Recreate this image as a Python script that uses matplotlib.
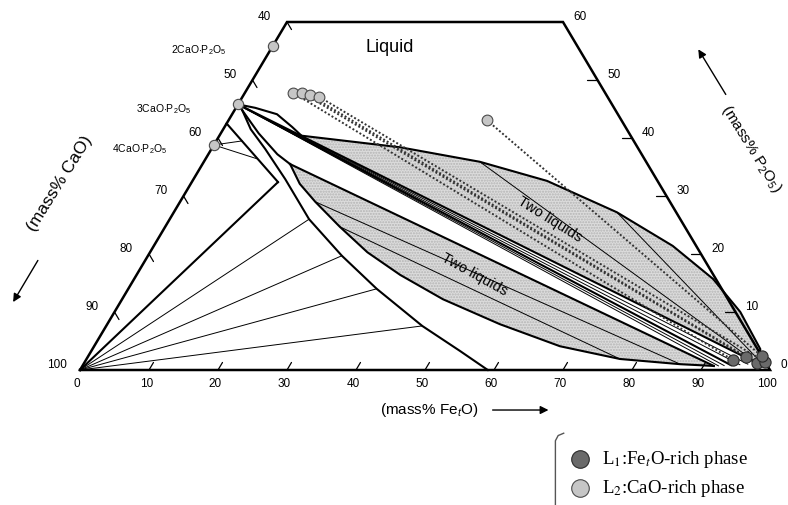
import matplotlib
matplotlib.use("Agg")
import matplotlib.pyplot as plt
import numpy as np
from matplotlib.patches import Polygon

plt.rcParams['font.family'] = ['Liberation Sans', 'DejaVu Sans']
plt.rcParams['mathtext.fontset'] = 'custom'
plt.rcParams['mathtext.rm'] = 'Liberation Sans'
plt.rcParams['mathtext.it'] = 'Liberation Sans:italic'

# all compositions given as (mass% FetO, mass% P2O5); CaO is the balance

# calcium phosphates on the CaO-P2O5 side
compound_names = ['2CaO$\\cdot$P$_2$O$_5$', '3CaO$\\cdot$P$_2$O$_5$', '4CaO$\\cdot$P$_2$O$_5$']
compound_p2o5 = [55.9, 45.8, 38.8]

# measured liquid pairs
l2_feo = [7.0, 8.3, 9.6, 11.1, 37.4]
l2_p2o5 = [47.8, 47.8, 47.4, 47.1, 43.1]
l1_feo = [93.8, 95.4, 97.5, 98.6, 97.6]
l1_p2o5 = [1.7, 2.2, 1.2, 1.4, 2.4]

# upper two-liquid lens
up_feo = [11.9, 27.2, 40.0, 51.4, 64.2, 75.2, 83.9, 90.7, 96.8, 97.5]
up_p2o5 = [40.4, 38.4, 35.9, 32.6, 27.2, 21.4, 15.7, 10.0, 3.6, 1.2]
# boundary from 3CaO.P2O5 to the lens tip
arc_feo = [0.0, 2.8, 6.5, 9.8, 11.9]
arc_p2o5 = [45.8, 45.2, 44.1, 41.9, 40.4]
up_tie_start = [(40.0, 35.9), (64.2, 27.2)]
up_tie_end = [(97.5, 1.2), (97.8, 1.5)]

# lower two-liquid lens
low_top_feo = [12.7, 91.5]
low_top_p2o5 = [35.5, 0.7]
low_bot_feo = [12.7, 15.8, 19.6, 25.3, 31.5, 38.2, 46.5, 56.9, 67.5, 77.3, 86.5, 91.5]
low_bot_p2o5 = [35.5, 32.1, 29.0, 24.7, 20.3, 16.4, 12.2, 7.9, 4.1, 1.9, 1.0, 0.7]
low_tie_start = [(19.6, 29.0), (25.3, 24.7)]
low_tie_end = [(86.5, 1.0), (77.3, 1.9)]
c3p_to_tip_feo = [0.0, 5.5, 10.0, 12.7]
c3p_to_tip_p2o5 = [45.8, 40.8, 37.2, 35.5]

# tie lines from 3CaO.P2O5 to the FetO-rich liquid
c3p_thin_end = [(96.3, 1.0), (95.2, 0.9), (93.0, 0.75), (92.2, 0.7)]
c3p_thick_end = [(97.5, 1.2), (94.0, 0.8)]

# liquidus of the solid solution and CaO fan
c1_feo = [0.5, 4.0, 7.8, 13.3, 20.2, 28.1, 36.0, 45.8, 53.4, 59.1]
c1_p2o5 = [45.5, 41.5, 38.1, 32.9, 26.0, 19.7, 14.0, 7.6, 3.3, 0.0]
d_feo = [0.0, 12.5]
d_p2o5 = [42.5, 32.4]
fan_thick_end = (12.5, 32.4)
fan_thin_end = [(20.2, 26.0), (28.1, 19.7), (36.0, 14.0), (45.8, 7.6)]
c4p_tie_end = [(3.75, 39.5), (7.5, 36.4)]

frame_feo = [0, 0, 40, 100, 0]
frame_p2o5 = [0, 60, 60, 0, 0]


def tern(feo, p2o5):
    feo = np.asarray(feo, float)
    p2o5 = np.asarray(p2o5, float)
    return feo + p2o5 / 2.0, p2o5


def seg(ax, a, b, lw, **kw):
    x, y = tern([a[0], b[0]], [a[1], b[1]])
    ax.plot(x, y, color='black', lw=lw, solid_capstyle='round', **kw)


fig = plt.figure(figsize=(7.88, 5.06), dpi=100)
ax = fig.add_axes([0, 0, 1, 1])
ax.set_xlim(-11.594, 102.61)
ax.set_ylim(-23.276, 63.966)
ax.axis('off')

THICK = 1.5
THIN = 0.7
shade = dict(facecolor='#dcdcdc', edgecolor='#b4b4b4', hatch='......', lw=0)

# upper lens
ux, uy = tern(up_feo, up_p2o5)
ax.add_patch(Polygon(np.column_stack([ux, uy]), closed=True, **shade))
ax.plot(ux, uy, color='black', lw=THICK)
for a, b in zip(up_tie_start, up_tie_end):
    seg(ax, a, b, THIN)

# lower lens
bx, by = tern(low_bot_feo, low_bot_p2o5)
tx, ty = tern(low_top_feo, low_top_p2o5)
ax.add_patch(Polygon(np.column_stack([np.r_[bx, tx[::-1]], np.r_[by, ty[::-1]]]), closed=True, **shade))
ax.plot(bx, by, color='black', lw=THICK)
ax.plot(tx, ty, color='black', lw=THICK)
for a, b in zip(low_tie_start, low_tie_end):
    seg(ax, a, b, THIN)
ax.plot(*tern(c3p_to_tip_feo, c3p_to_tip_p2o5), color='black', lw=THICK)

# 3CaO.P2O5 tie lines
c3p = (0.0, compound_p2o5[1])
ax.plot(*tern(arc_feo, arc_p2o5), color='black', lw=THICK)
for e in c3p_thin_end:
    seg(ax, c3p, e, THIN)
for e in c3p_thick_end:
    seg(ax, c3p, e, THICK)

# CaO side
ax.plot(*tern(c1_feo, c1_p2o5), color='black', lw=THICK)
ax.plot(*tern(d_feo, d_p2o5), color='black', lw=THICK)
seg(ax, (0, 0), fan_thick_end, THICK)
for e in fan_thin_end:
    seg(ax, (0, 0), e, THIN)
for e in c4p_tie_end:
    seg(ax, (0, compound_p2o5[2]), e, THIN)

# frame
ax.plot(*tern(frame_feo, frame_p2o5), color='black', lw=1.8, solid_joinstyle='miter')

# ticks
for v in range(10, 100, 10):
    seg(ax, (v, 0), (v, 1.3), 0.9)
for c in range(40, 100, 10):
    seg(ax, (0, 100 - c), (1.3, 100 - c - 1.3), 0.9)
for p in range(10, 60, 10):
    seg(ax, (100 - p, p), (100 - p - 1.5, p), 0.9)

# tick labels
for v in range(0, 101, 10):
    x, y = tern(v, 0)
    ax.text(x - 0.4, y - 2.2, str(v), ha='center', va='center', fontsize=8.5)
for c in range(40, 101, 10):
    x, y = tern(0, 100 - c)
    ax.text(x - 3.3, y + 1.0, str(c), ha='center', va='center', fontsize=8.5)
for p in range(0, 61, 10):
    x, y = tern(100 - p, p)
    dx = 2.0 if p == 0 else 2.4
    ax.text(x + dx, y + 1.0, str(p), ha='center', va='center', fontsize=8.5)

# dotted tie lines between the two liquids
for i in range(len(l1_feo)):
    x, y = tern([l2_feo[i], l1_feo[i]], [l2_p2o5[i], l1_p2o5[i]])
    ax.plot(x, y, color='#333333', lw=1.4, ls=(0, (1, 1.1)))

# compounds
cx, cy = tern(np.zeros(3), compound_p2o5)
ax.scatter(cx, cy, s=55, c='#c6c6c6', edgecolors='#4a4a4a', linewidths=0.8, zorder=5)
for name, x, y in zip(compound_names, cx, cy):
    ax.text(x - 10.8, y - 0.6, name, ha='center', va='center', fontsize=7.5)

ax.scatter(*tern(l2_feo, l2_p2o5), s=60, c='#c6c6c6', edgecolors='#4a4a4a', linewidths=0.8, zorder=5)
ax.scatter(*tern(l1_feo, l1_p2o5), s=65, c='#6a6a6a', edgecolors='#2a2a2a', linewidths=0.8, zorder=5)

# region labels
ax.text(44.9, 55.7, 'Liquid', ha='center', va='center', fontsize=13)
ax.text(68.1, 26.2, 'Two liquids', ha='center', va='center', fontsize=10.5, rotation=-32)
ax.text(57.2, 16.6, 'Two liquids', ha='center', va='center', fontsize=10.5, rotation=-29)

# axis titles
ax.text(50.6, -6.8, '(mass% Fe$_{\\it t}$O)', ha='center', va='center', fontsize=11)
ax.annotate('', xy=(68.3, -6.9), xytext=(59.4, -6.9),
            arrowprops=dict(arrowstyle='-|>', color='black', lw=1.0, mutation_scale=12))
ax.text(-2.9, 32.3, '(mass% CaO)', ha='center', va='center', fontsize=12.5, rotation=58)
ax.annotate('', xy=(-9.9, 11.3), xytext=(-5.9, 19.3),
            arrowprops=dict(arrowstyle='-|>', color='black', lw=1.0, mutation_scale=12))
ax.text(97.3, 38.3, '(mass% P$_2$O$_5$)', ha='center', va='center', fontsize=11, rotation=-58)
ax.annotate('', xy=(89.4, 55.7), xytext=(93.8, 47.1),
            arrowprops=dict(arrowstyle='-|>', color='black', lw=1.0, mutation_scale=12))

# legend
ax.plot([68.9, 68.9, 69.3, 70.1], [-23.5, -12.2, -11.3, -10.9], color='#555555', lw=1.0)
ax.scatter([72.5], [-15.3], s=160, c='#6a6a6a', edgecolors='#2a2a2a', linewidths=0.8)
ax.scatter([72.5], [-20.3], s=160, c='#c6c6c6', edgecolors='#4a4a4a', linewidths=0.8)
serif = ['Liberation Serif', 'DejaVu Serif']
ax.text(75.7, -15.3, 'L$_1$:Fe$_t$O-rich phase', ha='left', va='center', fontsize=13.5, family=serif,
        math_fontfamily='stix')
ax.text(75.7, -20.3, 'L$_2$:CaO-rich phase', ha='left', va='center', fontsize=13.5, family=serif,
        math_fontfamily='stix')

fig.savefig('out.png', dpi=100)
